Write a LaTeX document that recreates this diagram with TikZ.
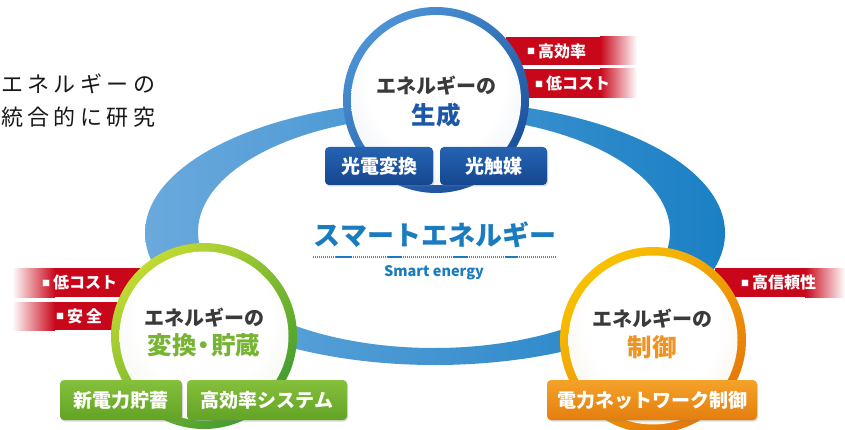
\documentclass[tikz,border=0pt]{standalone}
\usepackage{fontspec}
\newfontfamily\jp{Noto Sans CJK JP}
\usetikzlibrary{shadows}
\definecolor{ellL}{HTML}{6AA9DD}
\definecolor{ellM}{HTML}{2F8BCB}
\definecolor{ellR}{HTML}{1A80C4}
\definecolor{tagred}{HTML}{C8071A}
\definecolor{ringBL}{HTML}{4C93D6}
\definecolor{ringBD}{HTML}{1A4E9A}
\definecolor{ringGL}{HTML}{C2DA32}
\definecolor{ringGD}{HTML}{3F9B30}
\definecolor{ringOL}{HTML}{F8C200}
\definecolor{ringOD}{HTML}{E6760C}
\definecolor{tintB}{HTML}{D3DCEB}
\definecolor{tintG}{HTML}{E0E9CF}
\definecolor{tintO}{HTML}{F3E1C6}
\definecolor{boxB1}{HTML}{2563B2}
\definecolor{boxB2}{HTML}{15478F}
\definecolor{boxG1}{HTML}{86C03C}
\definecolor{boxG2}{HTML}{62A325}
\definecolor{boxO1}{HTML}{F4A22A}
\definecolor{boxO2}{HTML}{E47E0E}
\definecolor{txtgray}{HTML}{3A3A3A}
\definecolor{txtB}{HTML}{1D58A8}
\definecolor{txtG}{HTML}{78B434}
\definecolor{txtO}{HTML}{EC9424}
\definecolor{smartB}{HTML}{1B7BBF}
\pgfdeclareradialshading{glowB}{\pgfpoint{0bp}{8bp}}{color(0bp)=(white); color(20bp)=(white); color(50bp)=(tintB)}
\pgfdeclareradialshading{glowG}{\pgfpoint{0bp}{8bp}}{color(0bp)=(white); color(20bp)=(white); color(50bp)=(tintG)}
\pgfdeclareradialshading{glowO}{\pgfpoint{0bp}{8bp}}{color(0bp)=(white); color(20bp)=(white); color(50bp)=(tintO)}
\tikzset{
  boxbase/.style={rounded corners=4pt, inner sep=0pt, text=white,
    font=\jp\bfseries\fontsize{19pt}{19pt}\selectfont,
    drop shadow={opacity=0.3, shadow xshift=1pt, shadow yshift=-1.5pt}},
  bluebox/.style={boxbase, top color=boxB1, bottom color=boxB2},
  greenbox/.style={boxbase, top color=boxG1, bottom color=boxG2},
  orangebox/.style={boxbase, top color=boxO1, bottom color=boxO2},
  tagtext/.style={anchor=west, inner sep=0pt, text=white, font=\jp\bfseries\fontsize{16pt}{16pt}\selectfont},
  headtext/.style={inner sep=0pt, text=txtgray, font=\jp\bfseries\fontsize{20pt}{20pt}\selectfont},
  titletext/.style={inner sep=0pt, font=\jp\bfseries\fontsize{24.5pt}{24.5pt}\selectfont},
  introtext/.style={anchor=west, inner sep=0pt, text=black!90, font=\jp\fontsize{22pt}{22pt}\selectfont\addfontfeatures{LetterSpace=20}},
}
\newcommand{\sqm}{\raisebox{2.5pt}{\fontsize{8pt}{8pt}\selectfont ■}\hspace{3pt}}
\begin{document}
\begin{tikzpicture}[x=1pt,y=-1pt]
\fill[white] (0,0) rectangle (845,430);
\useasboundingbox (0,0) rectangle (845,430);

% intro text
\node[introtext] (intro1) at (1,84) {エネルギーの};
\node[introtext] (intro2) at (1,117) {統合的に研究};

% big ring
\shade[even odd rule, left color=ellL, middle color=ellM, right color=ellR]
  (435,233) ellipse [x radius=290pt, y radius=132pt]
  (434,232) ellipse [x radius=236pt, y radius=116pt];

% red tags (behind circles)
\fill[tagred] (506,37) rectangle (600.5,65);
\shade[left color=tagred, right color=white] (600,37) rectangle (637,65);
\fill[tagred] (506,69) rectangle (600.5,98);
\shade[left color=tagred, right color=white] (600,69) rectangle (637,98);
\fill[tagred] (54.5,268) rectangle (140,297);
\shade[left color=white, right color=tagred] (12,268) rectangle (55,297);
\fill[tagred] (54.5,302) rectangle (140,330);
\shade[left color=white, right color=tagred] (12,302) rectangle (55,330);
\fill[tagred] (715,268) rectangle (805.5,297);
\shade[left color=tagred, right color=white] (805,268) rectangle (845,297);
\node[tagtext] (t1) at (527,51) {\sqm 高効率};
\node[tagtext] (t2) at (535,83.5) {\sqm 低コスト};
\node[tagtext] (t3) at (42,282.5) {\sqm 低コスト};
\node[tagtext] (t4) at (56,316) {\sqm 安\hspace{3pt}全};
\node[tagtext] (t5) at (741,282.5) {\sqm 高信頼性};

% circles
\shade[top color=ringBL, bottom color=ringBD, shading angle=40] (436,100) circle (93pt);
\shade[shading=glowB] (436,100) circle (85pt);
\shade[top color=ringGL, bottom color=ringGD, shading angle=40] (204,336) circle (93pt);
\shade[shading=glowG] (204,336) circle (84.5pt);
\shade[top color=ringOL, bottom color=ringOD, shading angle=40] (653,340) circle (93pt);
\shade[shading=glowO] (653,340) circle (84.5pt);

% circle texts
\node[headtext] (h1) at (436,86) {エネルギーの};
\node[titletext, text=txtB] (g1) at (436,115) {生成};
\node[headtext] (h2) at (204,318) {エネルギーの};
\node[titletext, text=txtG] (g2) at (204,345) {変換\hspace{-5pt}・\hspace{-5pt}貯蔵};
\node[headtext] (h3) at (652,319) {エネルギーの};
\node[titletext, text=txtO] (g3) at (652,347) {制御};

% boxes
\node[bluebox, minimum width=108pt, minimum height=38pt] (b1) at (379,166) {光電変換};
\node[bluebox, minimum width=107pt, minimum height=38pt] (b2) at (493.5,166) {光触媒};
\node[greenbox, minimum width=122pt, minimum height=40pt] (b3) at (121,400) {新電力貯蓄};
\node[greenbox, minimum width=160pt, minimum height=40pt] (b4) at (267,400) {高効率システム};
\node[orangebox, minimum width=210pt, minimum height=40pt] (b5) at (652,400) {電力ネットワーク制御};

% center title
\node[inner sep=0pt, text=smartB, font=\jp\bfseries\fontsize{27pt}{27pt}\selectfont] (smart) at (435,235) {スマートエネルギー};
\coordinate (dl) at (313,257);
\coordinate (dr) at (557,257);
\draw[smartB!85, line width=1.2pt, dash pattern=on 1pt off 1pt] (dl) -- (dr);
\draw[smartB, line width=1.2pt] (336,257) -- (352,257) (388,257) -- (402,257) (453,257) -- (468,257) (505,257) -- (518,257);
\node[inner sep=0pt, text=smartB, font=\jp\bfseries\fontsize{14.5pt}{14.5pt}\selectfont] (smarten) at (434,273) {Smart energy};
\end{tikzpicture}
\end{document}
